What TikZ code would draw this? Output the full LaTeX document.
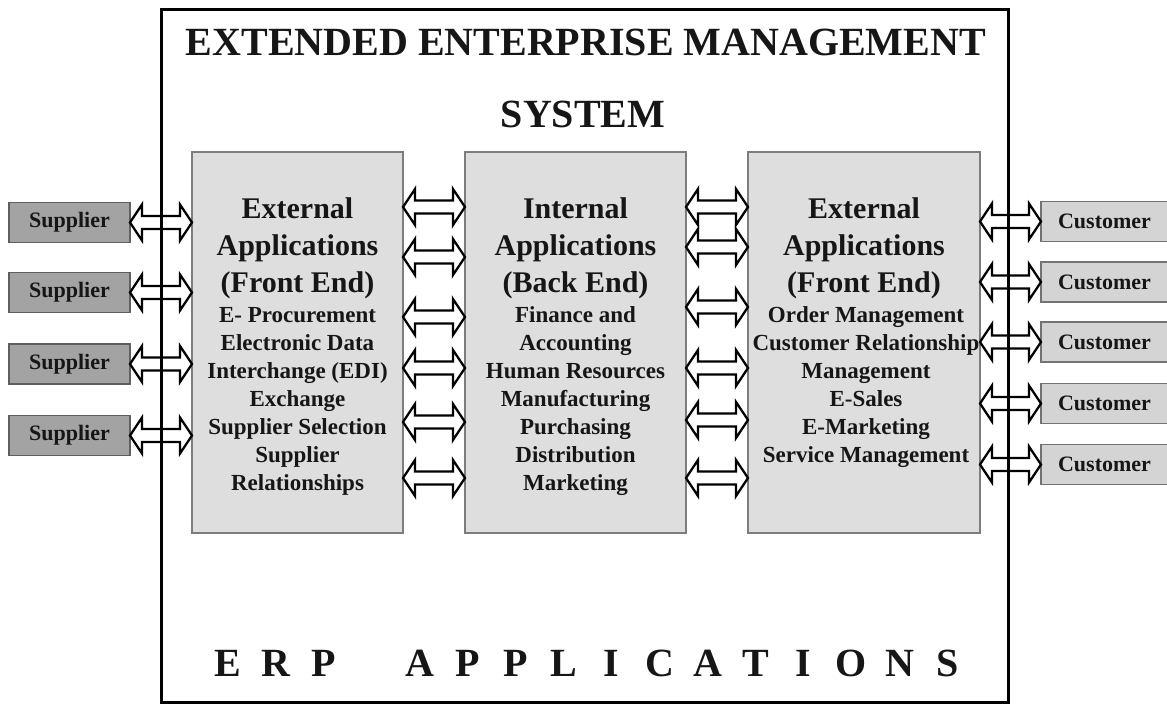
\documentclass[tikz,border=0pt]{standalone}
\usepackage{fontspec}
\setmainfont{Liberation Serif}
\usetikzlibrary{calc}
\definecolor{supfill}{RGB}{163,163,163}
\definecolor{supdraw}{RGB}{95,95,95}
\definecolor{custfill}{RGB}{212,212,212}
\definecolor{custdraw}{RGB}{115,115,115}
\definecolor{panfill}{RGB}{222,222,222}
\definecolor{pandraw}{RGB}{125,125,125}
\definecolor{ink}{RGB}{22,22,22}
\begin{document}
\begin{tikzpicture}[x=1pt,y=-1pt,
  titlef/.style={font=\fontsize{40}{48}\selectfont\bfseries, text=ink, inner sep=0pt, anchor=base},
  headf/.style={font=\fontsize{30}{36}\selectfont\bfseries, text=ink, inner sep=0pt, anchor=base},
  itemf/.style={font=\fontsize{23}{28}\selectfont\bfseries, text=ink, inner sep=0pt, anchor=base},
  supbox/.style={draw=supdraw, fill=supfill, line width=1.2pt, minimum width=121pt, minimum height=40pt, inner sep=0pt, outer sep=0pt, font=\fontsize{22}{26}\selectfont\bfseries, text=ink},
  custbox/.style={draw=custdraw, fill=custfill, line width=1.2pt, minimum width=127pt, minimum height=40pt, inner sep=0pt, outer sep=0pt, font=\fontsize{22}{26}\selectfont\bfseries, text=ink},
  panel/.style={draw=pandraw, fill=panfill, line width=1.2pt, minimum height=381pt, inner sep=0pt, outer sep=0pt},
  dbl/.style={draw=black, fill=white, line width=2.3pt, line join=miter,
    to path={let \p1=(\tikztostart), \p2=(\tikztotarget) in
      (\x1,\y1) -- (\x1+12pt,\y1+18pt) -- (\x1+12pt,\y1+6.5pt) -- (\x2-12pt,\y1+6.5pt)
      -- (\x2-12pt,\y1+18pt) -- (\x2,\y1) -- (\x2-12pt,\y1-18pt) -- (\x2-12pt,\y1-6.5pt)
      -- (\x1+12pt,\y1-6.5pt) -- (\x1+12pt,\y1-18pt) -- cycle}}
]
\useasboundingbox (0,0) rectangle (1167,705);
\clip (0,0) rectangle (1167,705);
\fill[white] (0,0) rectangle (1167,705);

% panels
\node[panel, minimum width=211pt] (L) at (297.5,342.5) {};
\node[panel, minimum width=221pt] (M) at (575.5,342.5) {};
\node[panel, minimum width=232pt] (R) at (864,342.5) {};

% suppliers
\node[supbox] (s1) at (69.5,222.5) {Supplier};
\node[supbox] (s2) at (69.5,292.5) {Supplier};
\node[supbox] (s3) at (69.5,364) {Supplier};
\node[supbox] (s4) at (69.5,435.5) {Supplier};

% customers
\node[custbox] (c1) at (1104.5,221.5) {Customer};
\node[custbox] (c2) at (1104.5,282) {Customer};
\node[custbox] (c3) at (1104.5,342) {Customer};
\node[custbox] (c4) at (1104.5,403.5) {Customer};
\node[custbox] (c5) at (1104.5,464.5) {Customer};

% titles
\node[titlef] (t1) at (586,55) {EXTENDED ENTERPRISE MANAGEMENT};
\node[titlef] (t2) at (583,127) {SYSTEM};
\node[titlef] (t3) at (587.5,676) {%
  \makebox[48pt]{E}\makebox[48pt]{R}\makebox[48pt]{P}\makebox[48pt]{}%
  \makebox[48pt]{A}\makebox[48pt]{P}\makebox[48pt]{P}\makebox[48pt]{L}%
  \makebox[48pt]{I}\makebox[48pt]{C}\makebox[48pt]{A}\makebox[48pt]{T}%
  \makebox[48pt]{I}\makebox[48pt]{O}\makebox[48pt]{N}\makebox[48pt]{S}};

% panel headings
\foreach \t [count=\i] in {External,Applications,(Front End)}
  \node[headf] (lh\i) at (297.5,{218+37*(\i-1)}) {\t};
\foreach \t [count=\i] in {Internal,Applications,(Back End)}
  \node[headf] (mh\i) at (575.5,{218+37*(\i-1)}) {\t};
\foreach \t [count=\i] in {External,Applications,(Front End)}
  \node[headf] (rh\i) at (864,{218+37*(\i-1)}) {\t};

% panel items
\foreach \t [count=\i] in {E- Procurement,Electronic Data,Interchange (EDI),Exchange,Supplier Selection,Supplier,Relationships}
  \node[itemf] (li\i) at (297.5,{322+28*(\i-1)}) {\t};
\foreach \t [count=\i] in {Finance and,Accounting,Human Resources,Manufacturing,Purchasing,Distribution,Marketing}
  \node[itemf] (mi\i) at (575.5,{322+28*(\i-1)}) {\t};
\foreach \t [count=\i] in {Order Management,Customer Relationship,Management,E-Sales,E-Marketing,Service Management}
  \node[itemf] (ri\i) at (866,{322+28*(\i-1)}) {\t};

% arrow rows between panels
\foreach \y [count=\i] in {207,257,317,368,422,478}
  \coordinate (a\i) at (0,\y);
\foreach \y [count=\i] in {207,247,307,368,420,478}
  \coordinate (b\i) at (0,\y);

% connectors
\foreach \i in {1,...,4}
  \draw[dbl] (s\i.east) to (s\i.east -| L.west);
\foreach \i in {1,...,5}
  \draw[dbl] (c\i.west -| R.east) to (c\i.west);
\foreach \i in {1,...,6}
  \draw[dbl] (L.east |- a\i) to (M.west |- a\i);
\foreach \i in {1,...,6}
  \draw[dbl] (M.east |- b\i) to (R.west |- b\i);

% outer frame
\draw[line width=3pt, black] (161,9) rectangle (1008,702);
\end{tikzpicture}
\end{document}
